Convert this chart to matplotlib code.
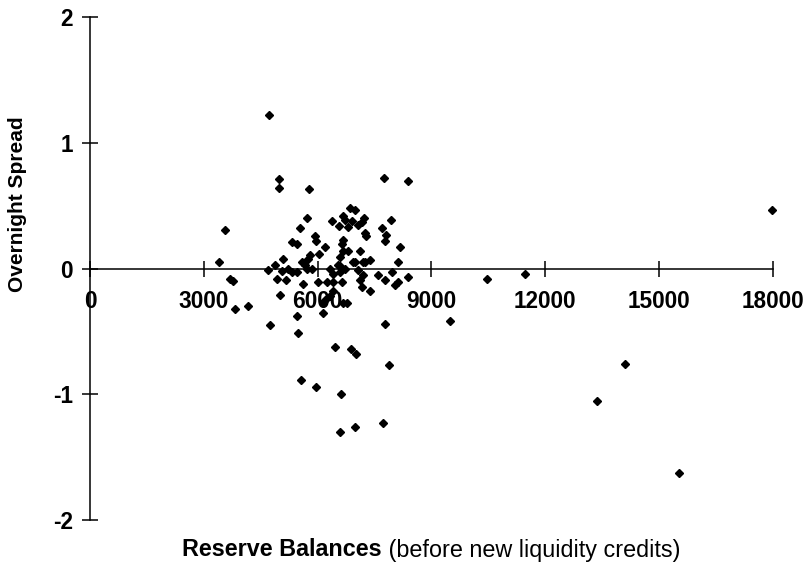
import matplotlib.pyplot as plt

# reserve balances vs overnight spread
reserves = [4720, 4980, 4980, 5775, 5720, 5540, 3560, 3400, 3690, 3770,
            3820, 4170, 4750, 5330, 5460, 4690, 4880, 5090, 5220, 5330,
            5060, 4930, 5170, 5460, 5010, 5670, 5720, 5750, 5460, 5930,
            5960, 6200, 6040, 5800, 5620, 6010, 6250, 6410, 6650, 6330,
            6540, 6720, 6990, 7070, 7200, 7380, 8120, 7120, 7200, 7600,
            7780, 7960, 8390, 8120, 8040, 7170, 7380, 6410, 6330, 6200,
            6140, 6140, 6670, 6780, 7780, 5490, 6460, 6880, 7010, 7890,
            5560, 5960, 6620, 6590, 6990, 7730, 9490, 10470, 11470, 14110,
            13370, 15530, 17980, 7750, 8390, 6860, 6990, 6670, 6720, 6380,
            6910, 7230, 7070, 6570, 6800, 7170, 7940, 7700, 7250, 7280,
            7810, 7780, 6670, 6650, 8180, 7120, 6670, 6800, 6590, 7250,
            6940, 6590, 5590, 6410, 6590, 5850]
spread = [1.22, 0.71, 0.64, 0.63, 0.40, 0.32, 0.31, 0.05, -0.08, -0.10,
          -0.32, -0.30, -0.45, 0.21, 0.20, -0.01, 0.03, 0.08, 0.00, -0.03,
          -0.02, -0.08, -0.09, -0.03, -0.21, 0.03, 0.00, 0.08, -0.38, 0.26,
          0.22, 0.17, 0.12, 0.11, -0.12, -0.11, -0.11, -0.11, -0.11, 0.00,
          0.03, 0.00, 0.05, -0.01, 0.05, 0.07, 0.05, -0.09, -0.05, -0.05,
          -0.09, -0.03, -0.07, -0.11, -0.13, -0.15, -0.18, -0.18, -0.22, -0.25,
          -0.27, -0.35, -0.27, -0.27, -0.44, -0.51, -0.62, -0.64, -0.68, -0.77,
          -0.89, -0.94, -1.00, -1.30, -1.26, -1.23, -0.42, -0.08, -0.04, -0.76,
          -1.05, -1.63, 0.47, 0.72, 0.70, 0.48, 0.47, 0.42, 0.39, 0.38,
          0.38, 0.40, 0.35, 0.34, 0.33, 0.37, 0.39, 0.32, 0.28, 0.26,
          0.27, 0.22, 0.23, 0.20, 0.17, 0.14, 0.14, 0.14, 0.09, 0.05,
          0.05, 0.02, 0.05, -0.04, -0.03, 0.00]

xticks = [0, 3000, 6000, 9000, 12000, 15000, 18000]
yticks = [-2, -1, 0, 1, 2]

plt.rcParams['font.family'] = ['Liberation Sans', 'DejaVu Sans']

fig = plt.figure(figsize=(8.08, 5.67), dpi=100)
ax = fig.add_axes([0.1114, 0.0829, 0.845, 0.8866])

ax.plot(reserves, spread, linestyle='none', marker='D', ms=4.2,
        color='black', zorder=3, clip_on=False)

ax.set_xlim(0, 18000)
ax.set_ylim(-2, 2)
ax.spines['top'].set_visible(False)
ax.spines['right'].set_visible(False)
ax.spines['left'].set_position(('data', 0))
ax.spines['bottom'].set_position(('data', 0))
for s in ['left', 'bottom']:
    ax.spines[s].set_linewidth(1.1)

ax.set_xticks(xticks)
ax.set_yticks(yticks)
ax.set_xticklabels([str(t) for t in xticks])
ax.set_yticklabels([str(t) for t in yticks])
ax.tick_params(axis='both', direction='inout', length=11, width=1.1,
               labelsize=16.3)
ax.tick_params(axis='x', pad=10)
ax.tick_params(axis='y', pad=7)
for lab in ax.get_xticklabels() + ax.get_yticklabels():
    lab.set_fontweight('bold')

fig.text(0.022, 1 - 204 / 567, 'Overnight Spread', rotation=90,
         fontsize=15, fontweight='bold', ha='center', va='center')

t = fig.text(182 / 808, 1 - 550 / 567, 'Reserve Balances', fontsize=16.8,
             fontweight='bold', ha='left', va='center')
ax.annotate(' (before new liquidity credits)', xy=(1, 0.5), xycoords=t,
            fontsize=16.8, ha='left', va='center', annotation_clip=False)

fig.savefig('out.png', dpi=100)
